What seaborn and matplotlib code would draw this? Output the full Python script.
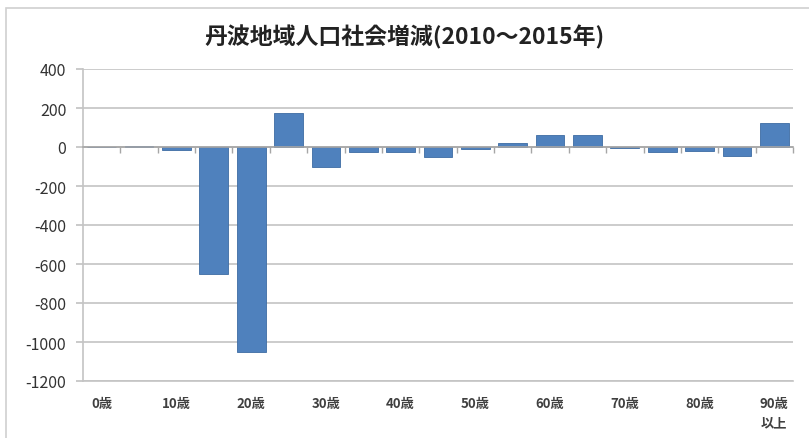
import matplotlib
matplotlib.use("Agg")
import matplotlib.pyplot as plt
import seaborn as sns
import pandas as pd
import numpy as np
from matplotlib.patches import Rectangle

# ---- data ----
categories = ["0歳", "5歳", "10歳", "15歳", "20歳", "25歳", "30歳", "35歳", "40歳",
              "45歳", "50歳", "55歳", "60歳", "65歳", "70歳", "75歳", "80歳", "85歳",
              "90歳以上"]
values = [0, 7, -15, -650, -1050, 172, -100, -28, -28, -50, -10, 22, 60, 60,
          -5, -28, -22, -45, 125]
tick_labels = ["0歳", "", "10歳", "", "20歳", "", "30歳", "", "40歳", "",
               "50歳", "", "60歳", "", "70歳", "", "80歳", "", "90歳\n以上"]
y_ticks = [-1200, -1000, -800, -600, -400, -200, 0, 200, 400]
title = "丹波地域人口社会増減(2010～2015年)"

sns.set_theme(style="white")
plt.rcParams['font.family'] = ['Noto Sans CJK JP', 'DejaVu Sans']
plt.rcParams['axes.unicode_minus'] = False

W, H = 809, 439
fig = plt.figure(figsize=(W / 100, H / 100), dpi=100)
fig.patch.set_facecolor("white")
ax = fig.add_axes([83 / W, 1 - 382 / H, (793 - 83) / W, (382 - 70) / H])

df = pd.DataFrame({"age": categories, "value": values})
sns.barplot(data=df, x="age", y="value", color="#4F81BD", saturation=1,
            width=0.77, edgecolor="#3D6CA3", linewidth=0.6, ax=ax)

ax.set_ylim(y_ticks[0], y_ticks[-1])
ax.set_yticks(y_ticks)
ax.set_xlim(-0.5, len(categories) - 0.5)
ax.set_xticks(range(len(categories)))
ax.set_xticklabels(tick_labels)
ax.set_xlabel("")
ax.set_ylabel("")
ax.yaxis.grid(True, color="#C4C4C4", linewidth=1.2)
ax.xaxis.grid(False)
ax.set_axisbelow(True)
for s in ["top", "right"]:
    ax.spines[s].set_visible(False)
for s in ["left", "bottom"]:
    ax.spines[s].set_color("#C4C4C4")
    ax.spines[s].set_linewidth(1.2)
ax.tick_params(axis="y", length=5, color="#C4C4C4", pad=7, labelsize=11.5,
               labelcolor="#333333", left=True, direction="out")
ax.tick_params(axis="x", length=0, pad=11, labelsize=9.5, labelcolor="#404040")
for t in ax.get_xticklabels():
    t.set_fontweight("bold")
    t.set_linespacing(1.45)
    t.set_va("top")

# zero line with tick marks at category boundaries
ax2 = ax.twiny()
ax2.set_xlim(ax.get_xlim())
for s in ["top", "right", "left"]:
    ax2.spines[s].set_visible(False)
ax2.spines["bottom"].set_position(("data", 0))
ax2.spines["bottom"].set_color("#A6A6A6")
ax2.spines["bottom"].set_linewidth(1.2)
ax2.xaxis.set_ticks_position("bottom")
ax2.set_xticks(np.arange(0.5, len(categories), 1.0))
ax2.set_xticklabels([])
ax2.tick_params(axis="x", length=4, color="#A6A6A6", width=1, direction="out")
ax2.set_ylim(ax.get_ylim())
ax2.patch.set_visible(False)

fig.text(0.5, 1 - 37 / H, title, ha="center", va="center", fontsize=16.5,
         fontweight="bold", color="#222222")

fig.patches.append(Rectangle((6 / W, -0.05), 1.1, 1 - 9 / H + 0.05,
                             transform=fig.transFigure, fill=False,
                             edgecolor="#D0D0D0", linewidth=1.2))

fig.savefig("out.png", dpi=100)
